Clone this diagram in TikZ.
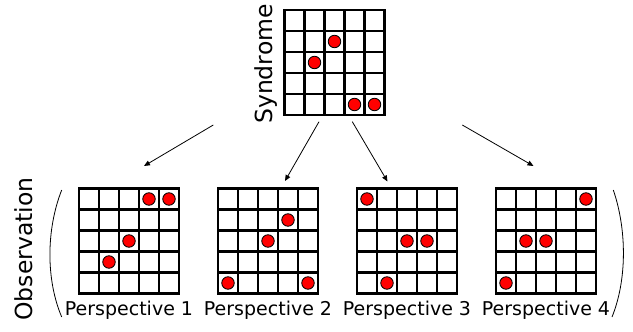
\documentclass[tikz,border=0pt]{standalone}
\usepackage{fontspec}
\setmainfont{DejaVu Sans}
\usetikzlibrary{arrows.meta,calc}
\newcommand{\mkboard}[4]{%
  \node[board,anchor=north west] (#1) at (#2,#3) {};
  \foreach \i in {1,...,4} {
    \draw[gridline] ($(#1.north west)+(20*\i,0)$) -- ++(0,105);
    \draw[gridline] ($(#1.north west)+(0,21*\i)$) -- ++(100,0);
  }
  \foreach \c/\r [count=\k] in {#4}
    \node[dot] (#1-d\k) at ($(#1.north west)+(20*\c-10,21*\r-10.5)$) {};
}
\begin{document}
\begin{tikzpicture}[x=1pt,y=-1pt,
  gridline/.style={line width=2.7pt},
  dot/.style={circle,fill=red,draw=black,line width=0.8pt,inner sep=0pt,minimum size=12.5pt},
  lbl/.style={font=\fontsize{19}{20}\selectfont,anchor=base,inner sep=0pt},
  side/.style={font=\fontsize{23.5}{24}\selectfont,anchor=base,inner sep=0pt,rotate=90},
  arr/.style={-{Triangle[length=6pt,width=5pt]},line width=0.8pt},
  paren/.style={line width=0.8pt},
  board/.style={minimum width=100pt,minimum height=105pt,inner sep=0pt,outer sep=0pt,draw,line width=2.7pt,fill=white}
]
\useasboundingbox[fill=white] (0,0) rectangle (633,332);

\mkboard{syn}{284.5}{10}{3/2,2/3,4/5,5/5}
\mkboard{p1}{79}{188.5}{4/1,5/1,3/3,2/4}
\mkboard{p2}{218}{188.5}{4/2,3/3,1/5,5/5}
\mkboard{p3}{357}{188.5}{1/1,3/3,4/3,2/5}
\mkboard{p4}{496}{188.5}{5/1,2/3,3/3,1/5}

\node[side] (syntext) at (272.3,64) {Syndrome};
\node[side] (obstext) at (32.3,249) {Observation};

\node[lbl] (l1) at (p1.south |- {(0,315)}) {Perspective 1};
\node[lbl] (l2) at (p2.south |- {(0,315)}) {Perspective 2};
\node[lbl] (l3) at (p3.south |- {(0,315)}) {Perspective 3};
\node[lbl] (l4) at (p4.south |- {(0,315)}) {Perspective 4};

\coordinate (a1s) at (213.3,125); \coordinate (a1e) at (144,166);
\coordinate (a2s) at (319,121.7); \coordinate (a2e) at (285,181);
\coordinate (a3s) at (352.3,121.7); \coordinate (a3e) at (387.5,181.5);
\coordinate (a4s) at (462.3,125); \coordinate (a4e) at (533.5,166);
\draw[arr] (a1s) -- (a1e);
\draw[arr] (a2s) -- (a2e);
\draw[arr] (a3s) -- (a3e);
\draw[arr] (a4s) -- (a4e);

\draw[paren] (61.7,190) .. controls (46,230) and (46,280) .. (61.7,317);
\draw[paren] (613.3,190) .. controls (627,230) and (627,280) .. (612,317);
\end{tikzpicture}
\end{document}
